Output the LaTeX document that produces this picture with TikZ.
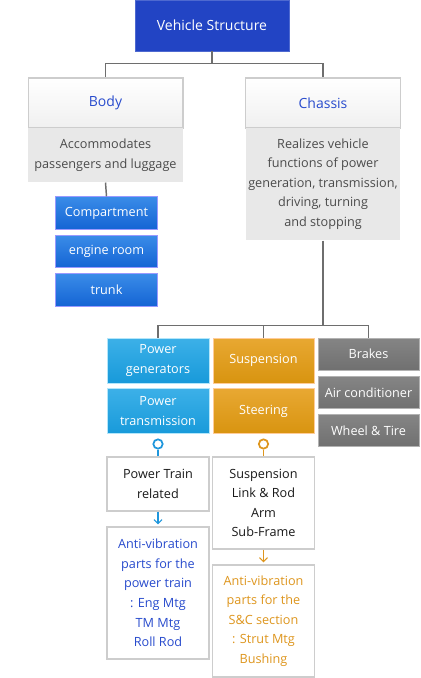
\documentclass[tikz,border=0pt]{standalone}
\usepackage{fontspec}
\setmainfont{Open Sans}
\usetikzlibrary{positioning}
\usetikzlibrary{arrows.meta}

\definecolor{topblue}{RGB}{34,68,196}
\definecolor{linegray}{RGB}{110,110,110}
\definecolor{framegray}{RGB}{205,205,205}
\definecolor{descgray}{RGB}{232,232,232}
\definecolor{textgray}{RGB}{75,75,75}
\definecolor{titleblue}{RGB}{40,75,205}
\definecolor{avorange}{RGB}{222,150,30}
\definecolor{ringblue}{RGB}{30,150,220}

\begin{document}
\begin{tikzpicture}[x=0.75pt, y=-0.75pt, thick,
    box/.style = {rectangle, inner sep=0pt, align=center, text=white,
        font=\fontsize{9.5}{14.7}\selectfont},
    topbox/.style = {box, fill=topblue, draw=topblue!80!white, line width=0.6pt,
        minimum width=115.5pt, minimum height=38.25pt, font=\fontsize{10.5}{14}\selectfont},
    head/.style = {box, top color=white, bottom color=black!6, draw=framegray,
        line width=1pt, text=titleblue, minimum width=116pt, minimum height=37.5pt,
        font=\fontsize{10.5}{14}\selectfont},
    desc/.style = {box, fill=descgray, text=textgray, minimum width=116pt},
    bluebox/.style = {box, top color={rgb,255:red,58;green,140;blue,232},
        bottom color={rgb,255:red,20;green,100;blue,212}, draw=blue!40!white,
        line width=0.6pt, minimum width=77pt, minimum height=24.5pt},
    cyanbox/.style = {box, top color={rgb,255:red,60;green,176;blue,232},
        bottom color={rgb,255:red,24;green,154;blue,218}, draw=cyan!30!white,
        line width=0.6pt, minimum width=76.5pt, minimum height=33.75pt},
    orangebox/.style = {box, top color={rgb,255:red,232;green,168;blue,50},
        bottom color={rgb,255:red,216;green,148;blue,16}, draw=orange!40!white,
        line width=0.6pt, minimum width=75.75pt, minimum height=33.75pt},
    graybox/.style = {box, top color=black!48, bottom color=black!56,
        draw=black!30, line width=0.6pt, minimum width=75.75pt, minimum height=24pt},
    listbox/.style = {box, fill=white, draw=framegray, line width=1pt,
        text=black!90, minimum width=76.5pt},
    ring/.style = {circle, draw, fill=white, line width=1.3pt, inner sep=0pt,
        minimum size=7pt},
    link/.style = {draw=linegray, line width=1.1pt},
    tip/.style = {line width=0.8pt, -{Straight Barb[length=3pt, width=6pt]}}
]
    \useasboundingbox (0,0) rectangle (421,678);

    % top of the tree
    \node[topbox] (vs) at (212,25.5) {Vehicle Structure};
    \node[head] (body) at (105.5,103) {Body};
    \node[head] (chassis) at (323,103) {Chassis};

    \node[desc, minimum height=40.5pt] (bodytxt) at (105.5,155)
        {Accommodates\\passengers and luggage};
    \node[desc, minimum height=84pt] (chassistxt) at (323,184)
        {Realizes vehicle\\functions of power\\generation, transmission,\\driving, turning\\and stopping};

    \draw[link] (vs.south) -- ++(0,12) -| (body.north);
    \draw[link] (vs.south) -- ++(0,12) -| (chassis.north);

    % body parts
    \node[bluebox] (comp) at (106.5,213) {Compartment};
    \node[bluebox, below=3.75pt of comp] (engine) {engine room};
    \node[bluebox, below=3.75pt of engine] (trunk) {trunk};
    \draw[link] (bodytxt.south) -- (comp.north);

    % chassis parts
    \node[cyanbox] (pgen) at (158,360.5) {Power\\generators};
    \node[cyanbox, below=3.75pt of pgen] (ptrans) {Power\\transmission};
    \node[orangebox] (susp) at (263.5,360.5) {Suspension};
    \node[orangebox, below=3.75pt of susp] (steer) {Steering};
    \node[graybox] (brakes) at (368.5,354) {Brakes};
    \node[graybox, below=4.5pt of brakes] (aircon) {Air conditioner};
    \node[graybox, below=3.75pt of aircon] (wheel) {Wheel \& Tire};

    \draw[link] (chassistxt.south) -- ++(0,85) coordinate (split);
    \draw[link] (split) -| (pgen.north);
    \draw[link] (split) -| (susp.north);
    \draw[link] (split) -| (brakes.north);

    % power train branch
    \node[ring, draw=ringblue] (pring) at (158,444) {};
    \node[listbox, minimum height=40.5pt] (ptrel) at (158,484) {Power Train\\related};
    \node[listbox, minimum height=99pt, text=titleblue] (ptav) at (158,593)
        {Anti-vibration\\parts for the\\power train\\: Eng Mtg\\TM Mtg\\Roll Rod};
    \draw[ringblue, line width=0.8pt] (pring.south) -- (ptrel.north);
    \draw[ringblue, tip] (ptrel.south) -- ([yshift=1.5pt]ptav.north);

    % suspension and steering branch
    \node[ring, draw=avorange] (sring) at (263.5,444) {};
    \node[listbox, minimum height=69pt] (slist) at (263.5,503)
        {Suspension\\Link \& Rod\\Arm\\Sub-Frame};
    \node[listbox, minimum height=84pt, text=avorange] (sav) at (263.5,621)
        {Anti-vibration\\parts for the\\S\&C section\\: Strut Mtg\\Bushing};
    \draw[avorange, line width=0.8pt] (sring.south) -- (slist.north);
    \draw[avorange, tip] (slist.south) -- ([yshift=1.5pt]sav.north);
\end{tikzpicture}
\end{document}
